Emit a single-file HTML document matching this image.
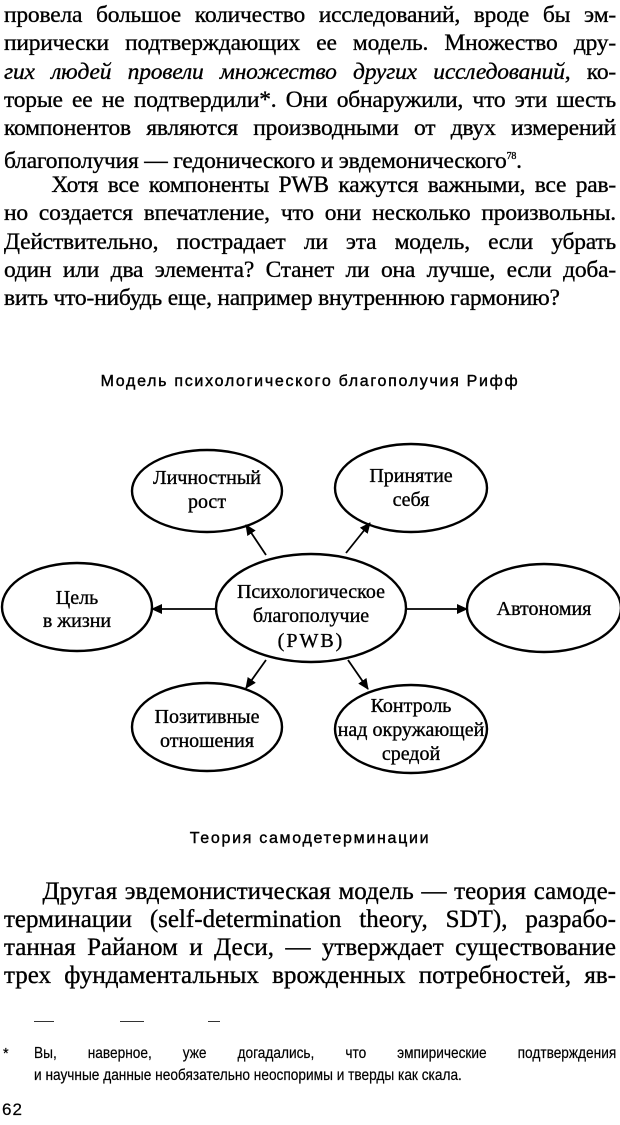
<!DOCTYPE html>
<html><head><meta charset="utf-8"><style>
body{margin:0;background:#fff;}
#p{position:relative;width:620px;height:1125px;overflow:hidden;background:#fff;color:#000;font-family:"Liberation Serif",serif;-webkit-text-stroke:0.35px #000;}
.l{position:absolute;left:4px;width:612px;font-size:23.5px;line-height:26px;white-space:nowrap;text-align:justify;text-align-last:justify;letter-spacing:-0.2px;}
.n{text-align-last:left;}
.b{position:absolute;left:4px;width:612px;font-size:25px;line-height:28px;white-space:nowrap;text-align:justify;text-align-last:justify;}
.h{position:absolute;left:0;width:620px;text-align:center;font-family:"Liberation Sans",sans-serif;font-size:16px;letter-spacing:1.7px;-webkit-text-stroke:0.4px #000;}
.f{position:absolute;font-family:"Liberation Sans",sans-serif;font-size:16px;white-space:nowrap;-webkit-text-stroke:0.2px #000;transform-origin:0 0;}
svg text{font-family:"Liberation Serif",serif;font-size:20px;fill:#000;text-anchor:middle;stroke:#000;stroke-width:0.35px;}
</style></head><body><div id="p">
<div class="l" style="top:2px">провела большое количество исследований, вроде бы эм-</div>
<div class="l" style="top:30px">пирически подтверждающих ее модель. Множество дру-</div>
<div class="l" style="top:59px"><i>гих людей провели множество других исследований,</i> ко-</div>
<div class="l" style="top:87px">торые ее не подтвердили*. Они обнаружили, что эти шесть</div>
<div class="l" style="top:115px">компонентов являются производными от двух измерений</div>
<div class="l n" style="top:144px">благополучия — гедонического и эвдемонического<sup style="font-size:10px">78</sup>.</div>
<div class="l" style="top:172px">&nbsp;&nbsp;&nbsp;&nbsp;&nbsp;Хотя все компоненты PWB кажутся важными, все рав-</div>
<div class="l" style="top:200px">но создается впечатление, что они несколько произвольны.</div>
<div class="l" style="top:229px">Действительно, пострадает ли эта модель, если убрать</div>
<div class="l" style="top:257px">один или два элемента? Станет ли она лучше, если доба-</div>
<div class="l n" style="top:285px">вить что-нибудь еще, например внутреннюю гармонию?</div>
<div class="h" style="top:373px">Модель психологического благополучия Рифф</div>
<svg style="position:absolute;left:0;top:0" width="620" height="1125">
<defs><marker id="a" markerWidth="11" markerHeight="10" refX="10" refY="5" orient="auto" markerUnits="userSpaceOnUse"><path d="M0,0 L11,5 L0,10 z" fill="#000"/></marker></defs>
<g fill="none" stroke="#000" stroke-width="2.4">
<ellipse cx="207" cy="491" rx="75" ry="41"/>
<ellipse cx="411" cy="488" rx="76" ry="44"/>
<ellipse cx="311" cy="608" rx="95" ry="54"/>
<ellipse cx="77" cy="607" rx="75" ry="44"/>
<ellipse cx="544" cy="608" rx="77" ry="44"/>
<ellipse cx="207" cy="727" rx="75" ry="44"/>
<ellipse cx="411" cy="729" rx="76" ry="44"/>
<g stroke-width="1.8" marker-end="url(#a)">
<line x1="266" y1="555" x2="246" y2="525"/>
<line x1="346" y1="553" x2="370" y2="523"/>
<line x1="216" y1="609" x2="152" y2="609"/>
<line x1="406" y1="609" x2="467" y2="609"/>
<line x1="266" y1="660" x2="246" y2="688"/>
<line x1="348" y1="660" x2="368" y2="689"/>
</g></g>
<text x="207" y="484">Личностный</text><text x="207" y="508">рост</text>
<text x="411" y="482">Принятие</text><text x="411" y="506">себя</text>
<text x="311" y="598">Психологическое</text><text x="311" y="622">благополучие</text><text x="311" y="647" style="letter-spacing:2px">(PWB)</text>
<text x="77" y="604">Цель</text><text x="77" y="627">в жизни</text>
<text x="544" y="615">Автономия</text>
<text x="207" y="723">Позитивные</text><text x="207" y="747">отношения</text>
<text x="411" y="712">Контроль</text><text x="411" y="736">над окружающей</text><text x="411" y="760">средой</text>
</svg>
<div class="h" style="top:830px">Теория самодетерминации</div>
<div class="b" style="top:878px">&nbsp;&nbsp;&nbsp;&nbsp;&nbsp;Другая эвдемонистическая модель — теория самоде-</div>
<div class="b" style="top:906px">терминации (self-determination theory, SDT), разрабо-</div>
<div class="b" style="top:934px">танная Райаном и Деси, — утверждает существование</div>
<div class="b" style="top:962px">трех фундаментальных врожденных потребностей, яв-</div>
<div style="position:absolute;top:1021px;left:34px;width:20px;height:1px;background:#333"></div>
<div style="position:absolute;top:1021px;left:120px;width:24px;height:1px;background:#333"></div>
<div style="position:absolute;top:1021px;left:208px;width:12px;height:1px;background:#333"></div>
<div class="f" style="top:1046px;left:3px;font-size:14.5px">*</div>
<div class="f" style="top:1045px;left:34px;width:681px;text-align:justify;text-align-last:justify;transform:scaleX(0.855)">Вы, наверное, уже догадались, что эмпирические подтверждения</div>
<div class="f" style="top:1067px;left:34px;transform:scaleX(0.855)">и научные данные необязательно неоспоримы и тверды как скала.</div>
<div class="f" style="top:1100px;left:2px;font-size:17px;letter-spacing:1px">62</div>
</div></body></html>
